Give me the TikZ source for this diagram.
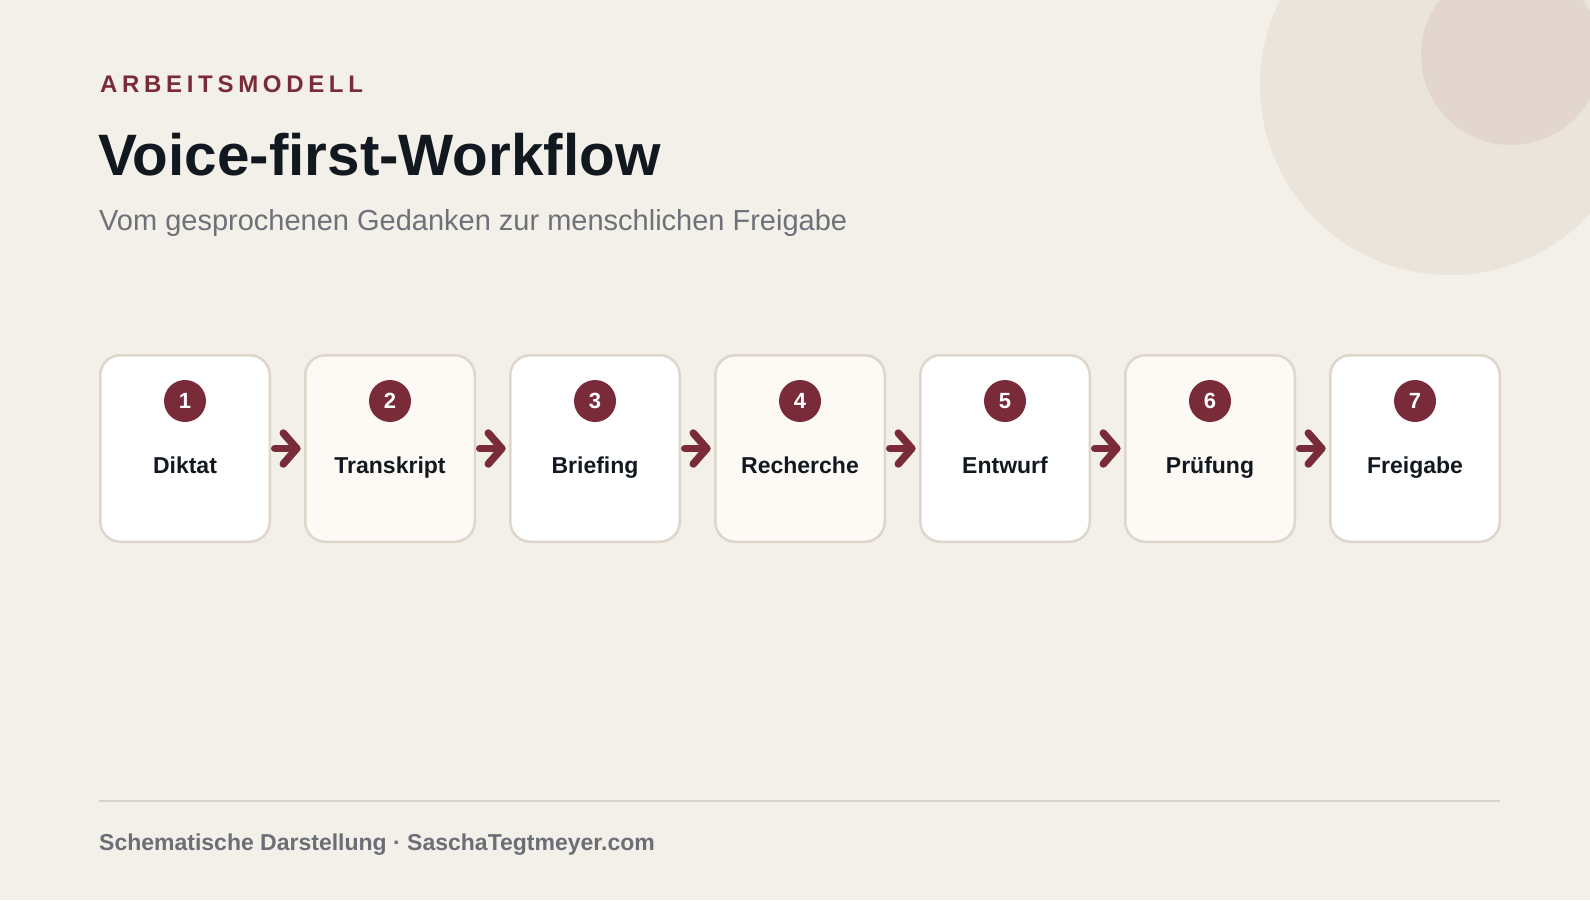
\documentclass[tikz,border=0pt]{standalone}
\usepackage{fontspec}
\setmainfont{Liberation Sans}
\usetikzlibrary{calc}
\definecolor{bg}{HTML}{F3F0E9}
\definecolor{circA}{HTML}{EAE4DB}
\definecolor{circB}{HTML}{E2D6CE}
\definecolor{maroon}{HTML}{7A2B3A}
\definecolor{ink}{HTML}{121820}
\definecolor{subgray}{HTML}{6E7178}
\definecolor{footgray}{HTML}{6B6E75}
\definecolor{boxline}{HTML}{DED6CB}
\definecolor{cream}{HTML}{FDFAF5}
\definecolor{rule}{HTML}{D8D1C7}
\begin{document}
\begin{tikzpicture}[x=1pt,y=-1pt,
  stepbox/.style={draw=boxline, line width=2.5pt, rounded corners=20pt,
    minimum width=169.5pt, minimum height=186.5pt, inner sep=0pt, outer sep=0pt},
  numdot/.style={circle, fill=maroon, minimum size=42pt, inner sep=0pt,
    text=white, font=\bfseries\fontsize{22}{22}\selectfont},
  steplabel/.style={anchor=base, inner sep=0pt, text=ink,
    font=\bfseries\fontsize{23}{24}\selectfont},
  flowarrow/.style={draw=maroon, line width=7.5pt, line cap=round, line join=round},
  txt/.style={anchor=base west, inner sep=0pt}
]
\useasboundingbox (0,0) rectangle (1590,900);
\fill[bg] (0,0) rectangle (1590,900);
\begin{scope}
  \clip (0,0) rectangle (1590,900);
  \fill[circA] (1450,85) circle[radius=190];
  \fill[circB] (1511,55) circle[radius=90];
\end{scope}

\node[txt, text=maroon, font=\bfseries\fontsize{24}{24}\selectfont\addfontfeature{LetterSpace=19.5}] (kicker) at (100,92) {ARBEITSMODELL};
\node[txt, text=ink, font=\bfseries\fontsize{58.4}{60}\selectfont] (title) at (98,175) {Voice-first-Workflow};
\node[txt, text=subgray, font=\fontsize{29}{30}\selectfont] (subtitle) at (99,230) {Vom gesprochenen Gedanken zur menschlichen Freigabe};

\foreach \i/\t/\f in {1/Diktat/white, 2/Transkript/cream, 3/Briefing/white, 4/Recherche/cream, 5/Entwurf/white, 6/Prüfung/cream, 7/Freigabe/white}{
  \pgfmathsetmacro\cx{185+205*(\i-1)}
  \node[stepbox, fill=\f] (b\i) at (\cx,448.5) {};
  \node[numdot] (n\i) at (\cx,401) {\i};
  \node[steplabel] (l\i) at (\cx,473) {\t};
}

\foreach \i [evaluate=\i as \j using int(\i+1)] in {1,...,6}{
  \draw[flowarrow] ([xshift=5pt]b\i.east) -- ([xshift=-8.5pt]b\j.west);
  \draw[flowarrow] ([xshift=-22pt,yshift=15.5pt]b\j.west) -- ([xshift=-8.5pt]b\j.west) -- ([xshift=-22pt,yshift=-15.5pt]b\j.west);
}

\coordinate (r1) at (99,801);
\coordinate (r2) at (1500,801);
\draw[rule, line width=2pt] (r1) -- (r2);
\node[txt, text=footgray, font=\bfseries\fontsize{23}{24}\selectfont] (footer) at (99,850) {Schematische Darstellung · SaschaTegtmeyer.com};
\end{tikzpicture}
\end{document}
